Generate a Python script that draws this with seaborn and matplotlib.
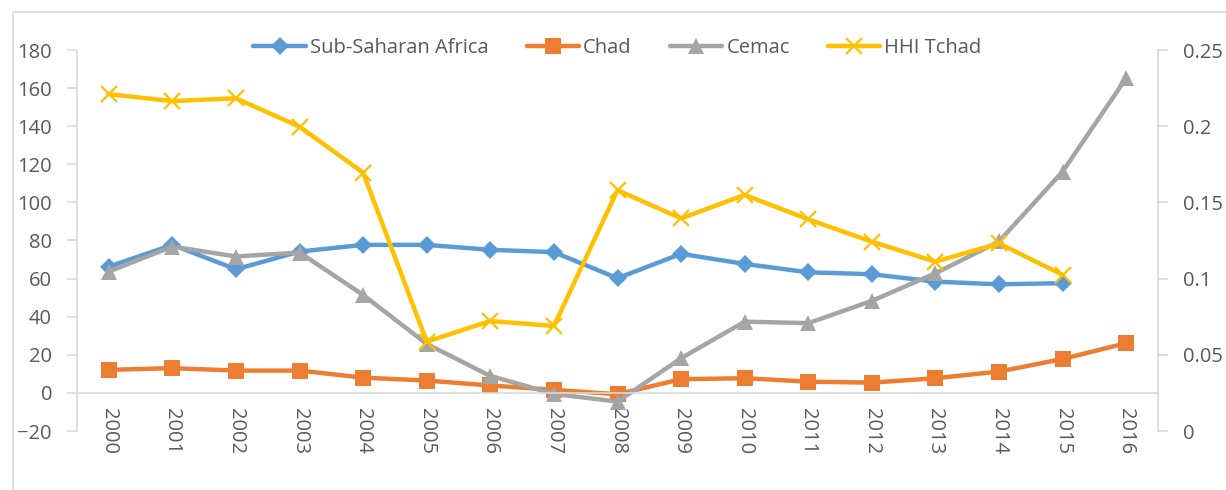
import numpy as np
import pandas as pd
import seaborn as sns
import matplotlib.pyplot as plt
from matplotlib.patches import Rectangle
from matplotlib.ticker import FixedLocator, FuncFormatter

years = [str(y) for y in range(2000, 2017)]
ssa = [66.3, 77.7, 64.9, 74.2, 77.7, 77.7, 75.1, 73.9, 60.2, 73.0, 67.7, 63.3, 62.3, 58.4, 57.0, 57.6, np.nan]
chad = [12.1, 13.0, 11.7, 11.7, 8.0, 6.5, 3.9, 1.6, -0.7, 7.2, 7.7, 5.9, 5.4, 7.7, 11.2, 17.8, 26.1]
cemac = [63.7, 76.8, 71.6, 73.7, 51.4, 25.7, 8.9, -0.5, -4.6, 18.2, 37.4, 36.6, 48.3, 62.8, 79.5, 116.2, 165.2]
hhi = [0.221, 0.2165, 0.2183, 0.1997, 0.1695, 0.0586, 0.0722, 0.0689, 0.158, 0.1395,
       0.1549, 0.1389, 0.1242, 0.1111, 0.1231, 0.1024, np.nan]

sns.set_theme(style="white")
plt.rcParams['font.family'] = ['Open Sans', 'DejaVu Sans']
txt = '#595959'
grid_c = '#D9D9D9'
fs = 14.5

df = pd.DataFrame({'x': np.arange(len(years)), 'ssa': ssa, 'chad': chad, 'cemac': cemac, 'hhi': hhi})

fig = plt.figure(figsize=(12.26, 4.9), dpi=100)
ax = fig.add_axes([77 / 1226, 1 - 431 / 490, (1158 - 77) / 1226, (431 - 50) / 490])
ax2 = ax.twinx()

sns.lineplot(data=df, x='x', y='ssa', ax=ax, color='#5B9BD5', lw=3.2, ls='-', marker='D', markersize=9,
             markeredgewidth=0, label='Sub-Saharan Africa', legend=False)
sns.lineplot(data=df, x='x', y='chad', ax=ax, color='#ED7D31', lw=3.2, ls='-', marker='s', markersize=12,
             markeredgewidth=0, label='Chad', legend=False)
sns.lineplot(data=df, x='x', y='cemac', ax=ax, color='#A5A5A5', lw=3.2, ls='-', marker='^', markersize=11,
             markeredgewidth=0, label='Cemac', legend=False)
sns.lineplot(data=df, x='x', y='hhi', ax=ax2, color='#FFC000', lw=3.2, ls='-', marker='x', markersize=12,
             markeredgewidth=1.6, markeredgecolor='#FFC000', label='HHI Tchad', legend=False)

ax.set_xlim(-0.5, len(years) - 0.5)
ax.set_ylim(-20, 180)
ax2.set_ylim(0, 0.25)
ax.set_yticks(np.arange(-20, 181, 20))
ax2.set_yticks(np.arange(0, 0.26, 0.05))
ax2.yaxis.set_major_formatter(FuncFormatter(lambda v, p: f'{v:.2f}'.rstrip('0').rstrip('.')))

ax.set_xticks(np.arange(len(years)))
ax.set_xticklabels(years)
ax.xaxis.set_minor_locator(FixedLocator(np.arange(-0.5, len(years), 1)))
ax.tick_params(axis='x', which='major', length=0, pad=11, labelsize=fs, labelcolor=txt, labelrotation=270)
ax.tick_params(axis='x', which='minor', length=7, width=1.2, color=grid_c, direction='out')
ax.tick_params(axis='y', length=7, width=1.2, color=grid_c, direction='out', labelsize=fs, labelcolor=txt, pad=11)
ax2.tick_params(axis='y', length=7, width=1.2, color=grid_c, direction='out', labelsize=fs, labelcolor=txt, pad=11)

ax.set_xlabel('')
ax.set_ylabel('')
ax2.set_ylabel('')
ax.spines['bottom'].set_position(('data', 0))
for a in (ax, ax2):
    for s in a.spines.values():
        s.set_color(grid_c)
        s.set_linewidth(1.2)
    a.spines['top'].set_visible(False)
ax2.spines['bottom'].set_visible(False)
ax.spines['right'].set_visible(False)
ax2.spines['left'].set_visible(False)

h1, l1 = ax.get_legend_handles_labels()
h2, l2 = ax2.get_legend_handles_labels()
leg = ax2.legend(h1 + h2, l1 + l2, loc='center', bbox_to_anchor=(0.5, 1.005), ncol=4,
                 frameon=False, fontsize=fs, handlelength=2.6, columnspacing=1.9, handletextpad=0.2)
for t in leg.get_texts():
    t.set_color(txt)

fig.add_artist(Rectangle((13 / 1226, -0.1), 1.2, 1.1 - 12 / 490, transform=fig.transFigure,
                         fill=False, edgecolor=grid_c, lw=1.2))

fig.savefig('out.png', dpi=100)
